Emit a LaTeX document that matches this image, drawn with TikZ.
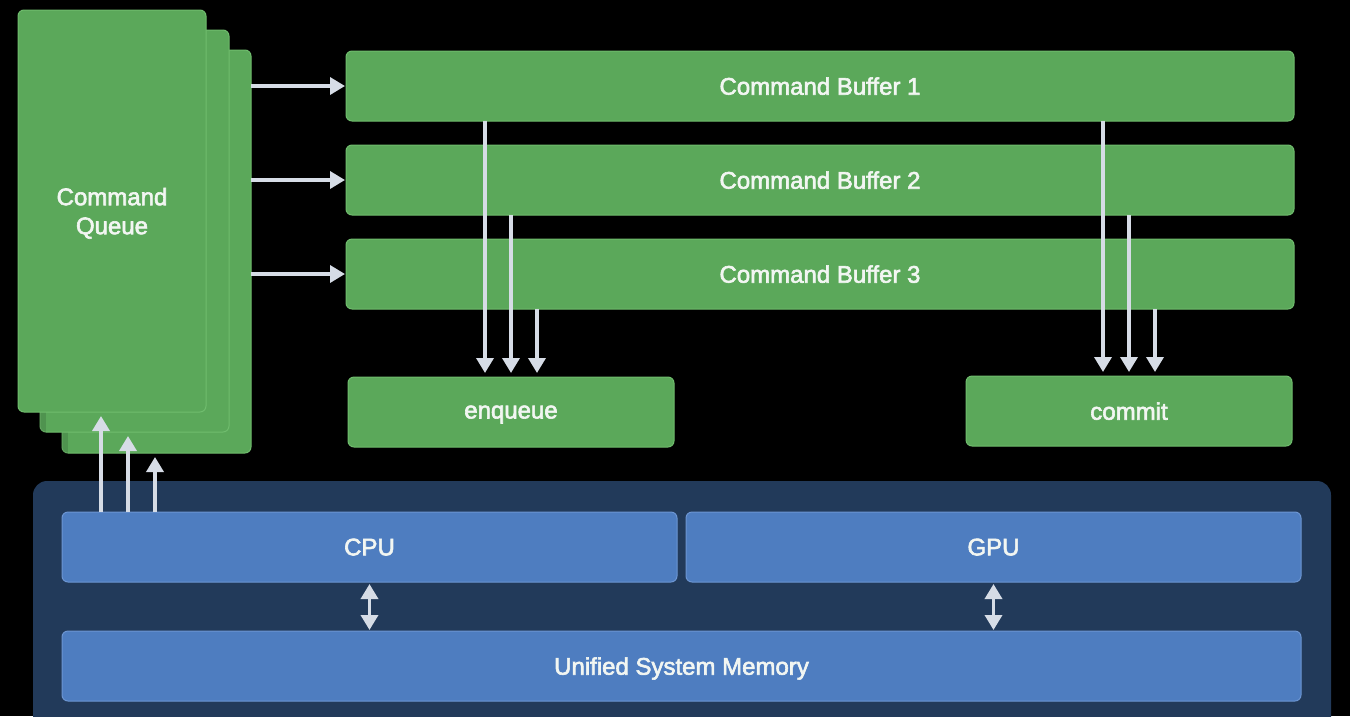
\documentclass[tikz,border=0pt]{standalone}
\usepackage{fontspec}
\setmainfont{Liberation Sans}[FakeBold=2.5]
\usetikzlibrary{arrows.meta}
\definecolor{gfill}{HTML}{5BA85A}
\definecolor{gline}{HTML}{6FBC6D}
\definecolor{bfill}{HTML}{4E7DC0}
\definecolor{bline}{HTML}{6C95D2}
\definecolor{panel}{HTML}{223A5A}
\definecolor{arr}{HTML}{D6DCE6}
\definecolor{txt}{HTML}{F2F6F2}
\tikzset{
  box/.style={rectangle, rounded corners=6pt, inner sep=0pt, outer sep=0pt,
    line width=1pt, text=txt, font=\fontsize{24}{29}\selectfont, align=center,
    text depth=0pt},
  gbox/.style={box, fill=gfill, draw=gline},
  bbox/.style={box, fill=bfill, draw=bline},
  arrline/.style={draw=arr, line width=3.5pt,
    -{Triangle[width=17pt,length=15pt]}},
  dblarr/.style={draw=arr, line width=3.5pt,
    {Triangle[width=17pt,length=15pt]}-{Triangle[width=17pt,length=15pt]}},
}
\begin{document}
\begin{tikzpicture}[x=1pt,y=-1pt]
\useasboundingbox (0,0) rectangle (1350,716);
\fill[black] (0,0) rectangle (1350,716);
% panel
\fill[panel, rounded corners=14pt] (33,481) rectangle (1331,740);
% command queue stack
\node[gbox, minimum width=189pt, minimum height=403pt] (q3) at (156.5,251.5) {};
\fill[black, opacity=0.12] (q3.north west) rectangle ++(6,403);
\node[gbox, minimum width=189pt, minimum height=402pt] (q2) at (134.5,231) {};
\fill[black, opacity=0.12] (q2.north west) rectangle ++(6,402);
\node[gbox, minimum width=188pt, minimum height=402pt] (q1) at (112,211) {Command\\Queue};
% command buffers
\node[gbox, minimum width=948pt, minimum height=70pt] (cb1) at (820,86) {Command Buffer 1};
\node[gbox, minimum width=948pt, minimum height=70pt] (cb2) at (820,180) {Command Buffer 2};
\node[gbox, minimum width=948pt, minimum height=70pt] (cb3) at (820,274) {Command Buffer 3};
% enqueue / commit
\node[gbox, minimum width=326pt, minimum height=70pt] (enq) at (511,412) {enqueue};
\node[gbox, minimum width=326pt, minimum height=70pt] (com) at (1129,411) {commit};
% cpu gpu memory
\node[bbox, minimum width=615pt, minimum height=70pt] (cpu) at (369.5,547) {CPU};
\node[bbox, minimum width=615pt, minimum height=70pt] (gpu) at (993.5,547) {GPU};
\node[bbox, minimum width=1239pt, minimum height=70pt] (mem) at (681.5,666) {Unified System Memory};
% queue -> buffers
\draw[arrline, shorten >=1pt] (q3.east |- cb1) -- (cb1.west);
\draw[arrline, shorten >=1pt] (q3.east |- cb2) -- (cb2.west);
\draw[arrline, shorten >=1pt] (q3.east |- cb3) -- (cb3.west);
% buffers -> enqueue
\draw[arrline, shorten >=4pt] (485,0 |- cb1.south) -- (485,0 |- enq.north);
\draw[arrline, shorten >=4pt] (511,0 |- cb2.south) -- (511,0 |- enq.north);
\draw[arrline, shorten >=4pt] (537,0 |- cb3.south) -- (537,0 |- enq.north);
% buffers -> commit
\draw[arrline, shorten >=4pt] (1103,0 |- cb1.south) -- (1103,0 |- com.north);
\draw[arrline, shorten >=4pt] (1129,0 |- cb2.south) -- (1129,0 |- com.north);
\draw[arrline, shorten >=4pt] (1155,0 |- cb3.south) -- (1155,0 |- com.north);
% cpu -> queues
\draw[arrline, shorten >=4pt] (101,0 |- cpu.north) -- (101,0 |- q1.south);
\draw[arrline, shorten >=4pt] (128,0 |- cpu.north) -- (128,0 |- q2.south);
\draw[arrline, shorten >=4pt] (155,0 |- cpu.north) -- (155,0 |- q3.south);
% cpu/gpu <-> memory
\draw[dblarr, shorten <=2pt, shorten >=1pt] (cpu.south) -- (cpu.south |- mem.north);
\draw[dblarr, shorten <=2pt, shorten >=1pt] (gpu.south) -- (gpu.south |- mem.north);
\end{tikzpicture}
\end{document}
